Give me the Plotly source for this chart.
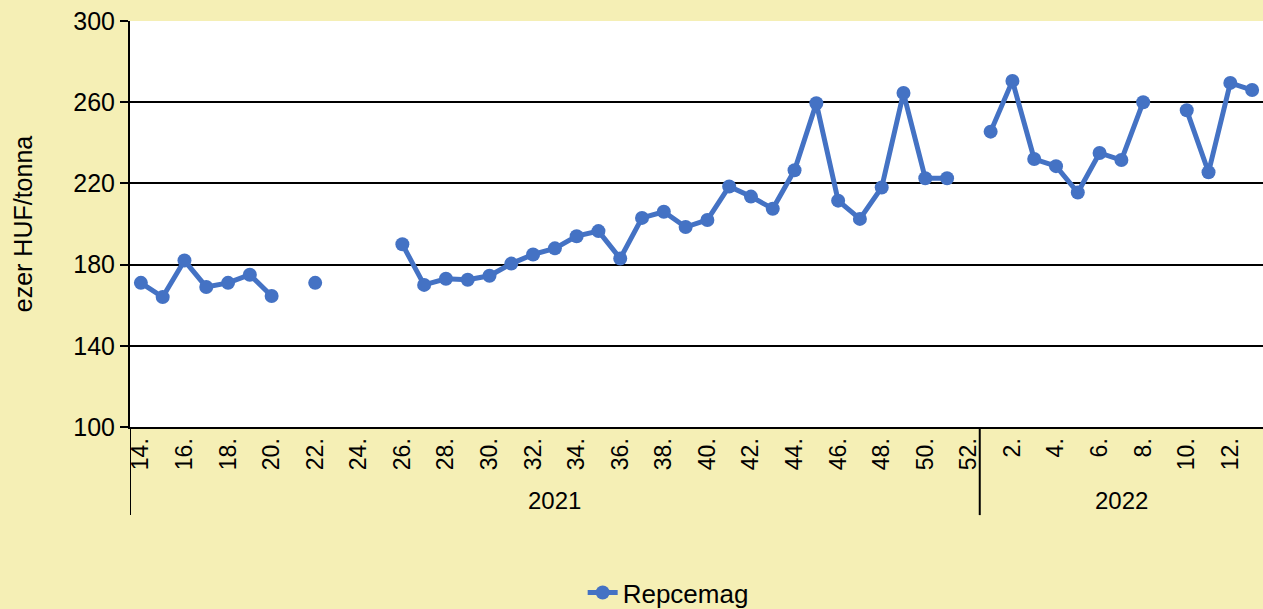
import plotly.graph_objects as go

weeks_2021 = list(range(14, 53))
weeks_2022 = list(range(1, 14))
values_2021 = [171, 164, 182, 169, 171, 175, 164.5, None, 171, None, None, None,
               190, 170, 173, 172.5, 174.5, 180.5, 185, 188, 194, 196.5, 183,
               203, 206, 198.5, 202, 218.5, 213.5, 207.5, 226.5, 259.5, 211.5,
               202.5, 218, 264.5, 222.5, 222.5, None]
values_2022 = [245.5, 270.5, 232, 228.5, 215.5, 235, 231.5, 260, None, 256,
               225.5, 269.5, 266]
years = ["2021", "2022"]
series_name = "Repcemag"
y_title = "ezer HUF/tonna"
y_ticks = [100, 140, 180, 220, 260, 300]

labels = [f"{w}." for w in weeks_2021] + [f"{w}." for w in weeks_2022]
values = values_2021 + values_2022
xs = list(range(len(labels)))

BG = "#F5EFB5"
BLUE = "#4472C4"

fig = go.Figure()
fig.add_trace(go.Scatter(
    x=xs, y=values, name=series_name, mode="lines+markers",
    line=dict(color=BLUE, width=5),
    marker=dict(color=BLUE, size=14),
    connectgaps=False,
))

n21 = len(weeks_2021)
n = len(labels)
tickvals = xs[::2]
ticktext = labels[::2]

fig.update_layout(
    width=1263, height=609,
    paper_bgcolor=BG, plot_bgcolor="white",
    margin=dict(l=130, r=0, t=21, b=182, autoexpand=False),
    font=dict(family="Arial, Liberation Sans, sans-serif", color="black"),
    showlegend=True,
    legend=dict(orientation="h", x=0.475, xanchor="center", yref="container",
                y=0.027, yanchor="middle", font=dict(size=26),
                bgcolor="rgba(0,0,0,0)"),
    xaxis=dict(range=[-0.5, n - 0.5], tickvals=tickvals, ticktext=ticktext,
               tickangle=-90, tickfont=dict(size=23), showgrid=False,
               showline=True, linecolor="black", linewidth=2, ticks="",
               zeroline=False, fixedrange=True, automargin=False),
    yaxis=dict(range=[100, 300], tickvals=y_ticks, tickfont=dict(size=25),
               showgrid=True, gridcolor="black", gridwidth=2,
               showline=True, linecolor="black", linewidth=2,
               ticks="outside", ticklen=8, tickcolor="black", tickwidth=2,
               zeroline=False, automargin=False,
               title=dict(text=y_title, font=dict(size=25), standoff=34)),
)

# year separators and labels
for xpos in [-0.5, n21 - 0.5]:
    fig.add_shape(type="line", xref="x", yref="paper", x0=xpos, x1=xpos,
                  y0=0, y1=-0.217, line=dict(color="black", width=2))
fig.add_annotation(x=(n21 - 1) / 2, xref="x", y=-0.18, yref="paper",
                   text=years[0], showarrow=False, font=dict(size=24),
                   yanchor="middle")
fig.add_annotation(x=n21 - 0.5 + (n - n21) / 2, xref="x", y=-0.18, yref="paper",
                   text=years[1], showarrow=False, font=dict(size=24),
                   yanchor="middle")

fig.write_html("out.html", config={"displayModeBar": False},
               post_script="document.body.style.margin='0';")
